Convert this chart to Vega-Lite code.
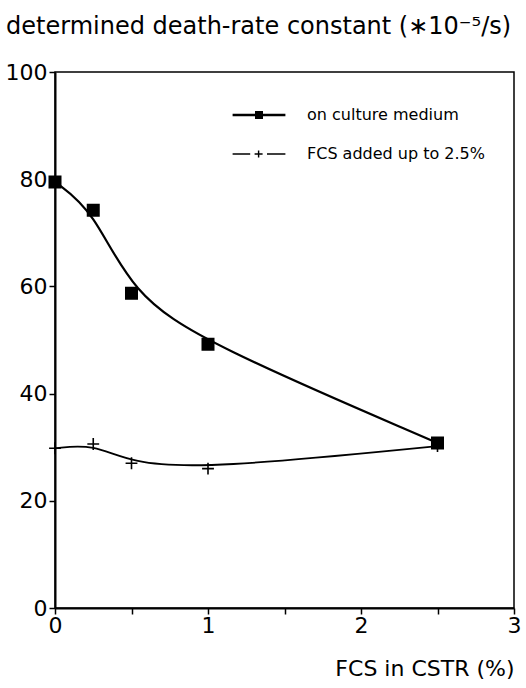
{
  "$schema": "https://vega.github.io/schema/vega-lite/v6.json",
  "width": 459,
  "height": 536,
  "autosize": {"type": "none"},
  "padding": {"left": 55, "top": 72, "right": 12, "bottom": 80},
  "background": "white",
  "title": {
    "text": "determined death-rate constant (∗10⁻⁵/s)",
    "anchor": "start",
    "frame": "bounds",
    "dx": 1,
    "offset": 3,
    "baseline": "alphabetic",
    "font": "DejaVu Sans",
    "fontSize": 24,
    "fontWeight": "normal",
    "color": "black"
  },
  "data": {
    "values": [
      {"series": "on culture medium", "fcs": 0, "k": 79.5},
      {"series": "on culture medium", "fcs": 0.25, "k": 74.2},
      {"series": "on culture medium", "fcs": 0.5, "k": 58.7},
      {"series": "on culture medium", "fcs": 1, "k": 49.2},
      {"series": "on culture medium", "fcs": 2.5, "k": 30.8},
      {"series": "FCS added up to 2.5%", "fcs": 0, "k": 29.8},
      {"series": "FCS added up to 2.5%", "fcs": 0.25, "k": 30.6},
      {"series": "FCS added up to 2.5%", "fcs": 0.5, "k": 27.0},
      {"series": "FCS added up to 2.5%", "fcs": 1, "k": 26.0},
      {"series": "FCS added up to 2.5%", "fcs": 2.5, "k": 30.2}
    ]
  },
  "encoding": {
    "x": {
      "field": "fcs",
      "type": "quantitative",
      "scale": {"domain": [0, 3], "nice": false, "zero": false},
      "axis": {
        "title": "FCS in CSTR (%)",
        "titleAnchor": "end",
        "titleAlign": "right",
        "titlePadding": 22,
        "values": [0, 0.5, 1, 1.5, 2, 2.5, 3],
        "labelExpr": "datum.value % 1 === 0 ? format(datum.value, 'd') : ''",
        "labelFlush": false,
        "labelPadding": 1
      }
    },
    "y": {
      "field": "k",
      "type": "quantitative",
      "scale": {"domain": [0, 100], "nice": false},
      "axis": {
        "title": null,
        "values": [0, 20, 40, 60, 80, 100],
        "labelPadding": 2
      }
    }
  },
  "layer": [
    {
      "mark": {"type": "line", "interpolate": "basis", "color": "black"},
      "encoding": {
        "detail": {"field": "series", "type": "nominal"},
        "strokeWidth": {
          "condition": {"test": "datum.series === 'on culture medium'", "value": 2.2},
          "value": 1.8
        }
      }
    },
    {
      "mark": {"type": "point", "filled": true, "fill": "black", "stroke": "black", "strokeWidth": 1.6, "opacity": 1},
      "encoding": {
        "shape": {
          "field": "series",
          "type": "nominal",
          "scale": {
            "domain": ["on culture medium", "FCS added up to 2.5%"],
            "range": ["square", "M-1,0H1M0,-1V1"]
          },
          "legend": null
        },
        "size": {
          "condition": {"test": "datum.series === 'on culture medium'", "value": 130},
          "value": 140
        }
      }
    },
    {
      "transform": [{"filter": "false"}],
      "mark": {"type": "point", "filled": true, "fill": "black", "opacity": 1},
      "encoding": {
        "shape": {
          "field": "series",
          "type": "nominal",
          "scale": {
            "domain": ["on culture medium", "FCS added up to 2.5%"],
            "range": [
              "M-3.3,-0.15H3.3V0.15H-3.3Z M-0.5,-0.5H0.5V0.5H-0.5Z",
              "M-3.3,-0.09H-1.1V0.09H-3.3Z M-0.55,-0.09H0.45V0.09H-0.55Z M-0.14,-0.45H0.04V0.45H-0.14Z M1.0,-0.09H3.3V0.09H1.0Z"
            ]
          },
          "legend": {
            "title": null,
            "orient": "none",
            "legendX": 195,
            "legendY": 34,
            "symbolSize": 256,
            "symbolFillColor": "black",
            "symbolOpacity": 1,
            "labelOffset": 39,
            "labelFont": "DejaVu Sans",
            "labelFontSize": 16,
            "labelColor": "black",
            "labelBaseline": "middle",
            "rowPadding": 22,
            "labelLimit": 400
          }
        }
      }
    }
  ],
  "resolve": {"scale": {"shape": "independent"}, "legend": {"shape": "independent"}},
  "config": {
    "font": "DejaVu Sans",
    "view": {"stroke": "black", "strokeWidth": 1.5},
    "axis": {
      "grid": false,
      "domainColor": "black",
      "domainWidth": 2,
      "tickColor": "black",
      "tickWidth": 1.5,
      "tickSize": 6,
      "labelColor": "black",
      "labelFont": "DejaVu Sans",
      "labelFontSize": 22,
      "titleColor": "black",
      "titleFont": "DejaVu Sans",
      "titleFontSize": 22,
      "titleFontWeight": "normal"
    }
  }
}
